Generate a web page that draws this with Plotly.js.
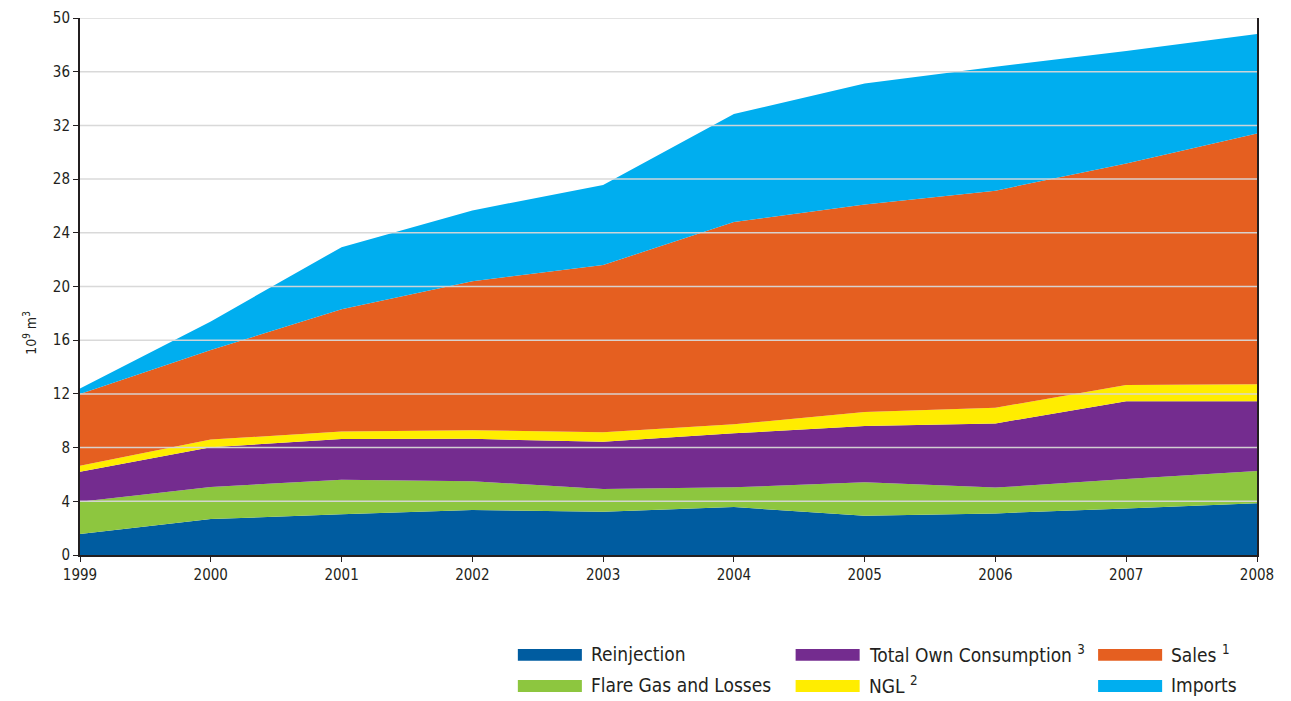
<!DOCTYPE html>
<html>
<head>
<meta charset="utf-8">
<script src="https://cdn.plot.ly/plotly-3.0.1.min.js"></script>
<style>html,body{margin:0;padding:0;background:#fff;}#chart{width:1291px;height:701px;}</style>
</head>
<body>
<div id="chart"></div>
<script>
const years = [1999, 2000, 2001, 2002, 2003, 2004, 2005, 2006, 2007, 2008];
const reinjection = [1.56, 2.68, 3.03, 3.35, 3.23, 3.57, 2.93, 3.10, 3.47, 3.85];
const flareGas = [2.41, 2.39, 2.57, 2.15, 1.69, 1.47, 2.48, 1.92, 2.19, 2.41];
const ownConsumption = [2.23, 2.95, 3.04, 3.15, 3.52, 4.02, 4.19, 4.78, 5.79, 5.19];
const ngl = [0.45, 0.58, 0.56, 0.65, 0.70, 0.67, 1.05, 1.17, 1.21, 1.26];
const sales = [5.35, 6.67, 9.10, 11.10, 12.46, 15.07, 15.45, 16.17, 16.51, 18.69];
const imports = [0.40, 2.13, 4.63, 5.27, 5.96, 8.05, 9.03, 9.23, 8.37, 7.40];

const seriesNames = ["Reinjection", "Flare Gas and Losses", "Total Own Consumption <sup>3</sup>", "NGL <sup>2</sup>", "Sales <sup>1</sup>", "Imports"];
const yTickVals = [0, 4, 8, 12, 16, 20, 24, 28, 32, 36, 40];
const yTickText = ["0", "4", "8", "12", "16", "20", "24", "28", "32", "36", "50"];
const yTitle = "10<sup>9</sup> m<sup>3</sup>";

const seriesValues = [reinjection, flareGas, ownConsumption, ngl, sales, imports];
const colors = ["#005ca0", "#8dc63f", "#742c8f", "#ffed00", "#e55f20", "#00aeef"];
const FONT = "'DejaVu Sans Condensed', 'Liberation Sans Narrow', Arial, sans-serif";

const traces = seriesValues.map((vals, i) => ({
  x: years, y: vals, type: "scatter", mode: "lines",
  stackgroup: "one", name: seriesNames[i],
  line: {width: 0, color: colors[i]}, fillcolor: colors[i],
  showlegend: false, hoverinfo: "skip"
}));

// gridlines above the areas
const shapes = yTickVals.filter(v => v > 0).map(v => ({
  type: "line", xref: "paper", yref: "y", x0: 0, x1: 1, y0: v, y1: v,
  line: {color: "rgba(215,215,215,0.95)", width: 1.5}, layer: "above"
}));

// legend (2 rows x 3 columns) built from names/colors
const legendOrder = [0, 2, 4, 1, 3, 5];
const colX = [0.372, 0.608, 0.865];
const rowY = [-0.186, -0.244];
const swW = 0.0544, swH = 0.0223;
const annotations = [];
legendOrder.forEach((si, k) => {
  const col = k % 3, row = Math.floor(k / 3);
  const x0 = colX[col], yc = rowY[row];
  shapes.push({type: "rect", xref: "paper", yref: "paper", x0: x0, x1: x0 + swW,
    y0: yc - swH / 2, y1: yc + swH / 2, fillcolor: colors[si], line: {width: 0}, layer: "above"});
  annotations.push({xref: "paper", yref: "paper", x: x0 + swW + 0.006, y: yc + 0.002, xanchor: "left", yanchor: "middle",
    text: seriesNames[si], showarrow: false, font: {family: FONT, size: 19, color: "#231f20"}});
});
annotations.push({xref: "paper", yref: "paper", x: -0.042, y: 0.413, xanchor: "center", yanchor: "middle",
  textangle: -90, text: yTitle, showarrow: false, font: {family: FONT, size: 14, color: "#231f20"}});

const layout = {
  width: 1291, height: 701,
  margin: {l: 80, r: 34, t: 18, b: 146},
  paper_bgcolor: "#fff", plot_bgcolor: "#fff",
  font: {family: FONT, color: "#231f20"},
  xaxis: {
    range: [1999, 2008], tickvals: years, ticktext: years.map(String),
    showgrid: false, zeroline: false, showline: true, linecolor: "#231f20", linewidth: 2,
    ticks: "outside", ticklen: 5, tickcolor: "#231f20", tickwidth: 1,
    tickfont: {family: FONT, size: 15, color: "#231f20"}
  },
  yaxis: {
    range: [0, 40], tickvals: yTickVals, ticktext: yTickText,
    showgrid: false, zeroline: false, showline: true, mirror: true, linecolor: "#231f20", linewidth: 2,
    ticks: "outside", ticklen: 5, tickcolor: "#231f20", tickwidth: 1,
    tickfont: {family: FONT, size: 15, color: "#231f20"}
  },
  shapes: shapes,
  annotations: annotations,
  showlegend: false
};

Plotly.newPlot("chart", traces, layout, {displayModeBar: false, staticPlot: true});
</script>
</body>
</html>
